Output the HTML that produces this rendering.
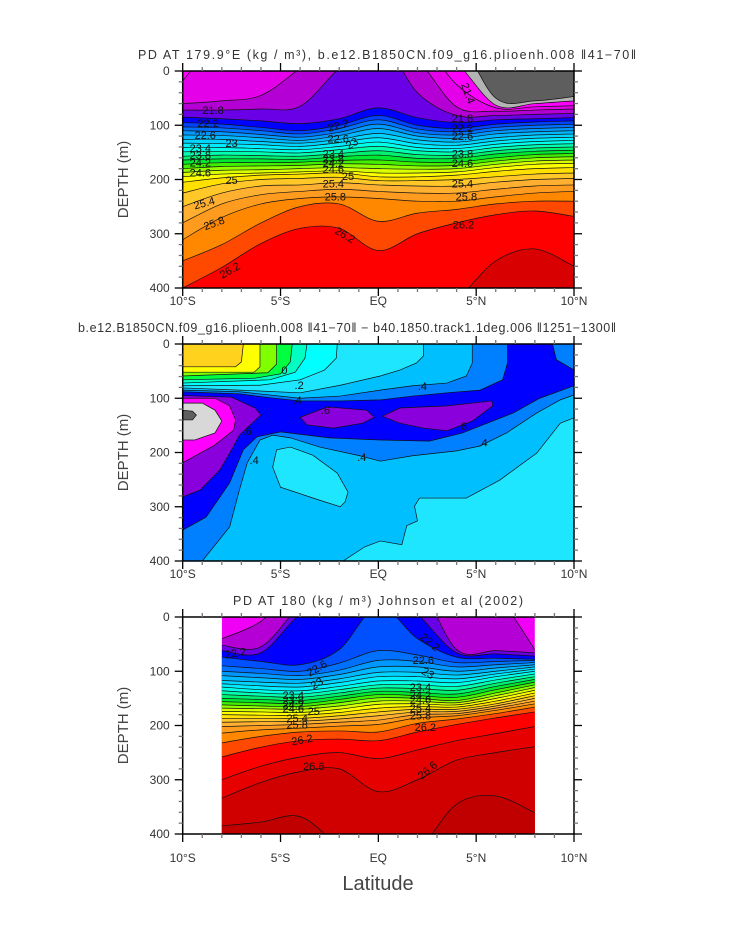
<!DOCTYPE html>
<html><head><meta charset="utf-8"><title>PD sections</title>
<style>
html,body{margin:0;padding:0;background:#fff;}
svg{display:block;font-family:"Liberation Sans",sans-serif;}
</style></head>
<body>
<svg id="fig" width="733" height="945" viewBox="0 0 733 945" xmlns="http://www.w3.org/2000/svg">
<defs>
<clipPath id="c1"><rect x="182.7" y="71" width="391.3" height="217"/></clipPath>
<clipPath id="c2"><rect x="182.7" y="344" width="391.3" height="217"/></clipPath>
<clipPath id="c3"><rect x="221.8" y="617" width="313.1" height="217"/></clipPath>
</defs>
<rect x="0" y="0" width="733" height="945" fill="#fff"/>
<text x="387" y="59" font-size="12.5" fill="#333" text-anchor="middle" textLength="498">PD AT 179.9°E (kg / m³), b.e12.B1850CN.f09_g16.plioenh.008 ‖41−70‖</text>
<text x="347" y="332" font-size="12.5" fill="#333" text-anchor="middle" textLength="538">b.e12.B1850CN.f09_g16.plioenh.008 ‖41−70‖ − b40.1850.track1.1deg.006 ‖1251−1300‖</text>
<text x="378" y="605" font-size="12.5" fill="#333" text-anchor="middle" textLength="290">PD AT 180 (kg / m³) Johnson et al (2002)</text>
<g id="p1" clip-path="url(#c1)"></g>
<g id="p2" clip-path="url(#c2)"></g>
<g id="p3" clip-path="url(#c3)"></g>
<g id="axes"></g>
<text x="378" y="890" font-size="20" fill="#444" text-anchor="middle">Latitude</text>
</svg>
<script>
// ---------- Panel 1 data ----------
const p1_lats = [-10,-8,-6,-4,-2,0,2,4,6,8,10];
const p1_levels = [21.2,21.4,21.5,21.6,21.8,22.0,22.2,22.4,22.6,22.8,23.0,23.2,23.4,23.6,23.8,24.0,24.2,24.4,24.6,24.8,25.0,25.2,25.4,25.6,25.8,26.0,26.2,26.4];
const p1_top_color = "#5e5e5e";
const p1_colors = ["#b4b4b4","#ff00ff","#e400e8","#b400d4","#6a00e6","#0000ff","#0040ff","#0070ff","#0098ff","#00b8ff","#00d4ff","#00ecff","#00ffe8","#00ffb0","#00f070","#00e830","#40f000","#90ff00","#d8ff00","#ffff00","#ffe000","#ffc828","#ffb030","#ff9c20","#ff8800","#ff4800","#ff0000","#d80000"];
const p1_depths = [
[-60,-60,-60,-60,-60,-60,-60,-60,50,55,47],
[-60,-60,-60,-60,-60,-60,-60,-15,63,60,55],
[18,-60,-60,-60,-60,-60,-60,25,68,66,64],
[60,55,45,-5,-60,-60,-20,66,74,72,70],
[72,72,70,65,-5,-60,40,82,82,80,78],
[85,88,92,97,88,68,86,95,90,88,86],
[95,98,104,110,100,82,100,106,98,94,92],
[103,105,110,116,106,90,107,112,104,100,98],
[110,112,117,122,113,98,114,118,110,106,104],
[118,119,123,128,119,106,120,124,116,112,110],
[126,126,130,133,126,115,127,131,123,118,116],
[133,134,136,139,132,123,134,137,129,124,122],
[141,141,143,145,139,131,141,143,135,130,128],
[149,148,149,151,145,139,147,149,141,136,134],
[157,155,156,157,152,147,154,155,147,142,140],
[164,162,162,163,158,155,161,161,153,148,146],
[172,169,169,168,165,164,168,168,160,154,152],
[180,176,175,174,171,172,175,174,166,160,158],
[187,183,182,180,178,180,181,180,172,166,164],
[195,190,188,186,184,188,188,186,178,172,170],
[205,197,192,190,188,195,195,192,185,180,178],
[225,208,200,198,196,202,202,200,195,190,188],
[250,225,212,210,206,210,212,212,205,200,198],
[280,245,228,222,218,222,225,225,218,212,210],
[311,270,245,235,232,235,240,240,232,225,222],
[350,320,280,250,245,277,262,255,245,240,240],
[400,362,318,290,290,331,300,280,265,258,268],
[450,450,450,450,450,450,450,420,350,328,360]];
const p1_labels = [[-8.45,72,"21.8",0],[-8.7,96,"22.2",0],[-8.85,118,"22.6",0],[-7.5,133,"23",0],[-9.1,142,"23.4",0],[-9.1,155,"23.8",0],[-9.1,169,"24.2",0],[-9.1,187,"24.6",0],[-7.5,201,"25",0],[-8.9,243,"25.4",-15],[-8.4,280,"25.8",-20],[-7.6,367,"26.2",-30],[-2.05,100,"22.2",-15],[-2.05,124,"22.6",0],[-1.35,133,"23",-30],[-2.3,152,"23.4",0],[-2.3,161,"23.8",0],[-2.3,170,"24.2",0],[-2.3,181,"24.6",0],[-1.55,194,"25",0],[-2.3,207,"25.4",0],[-2.2,231,"25.8",0],[-1.7,302,"26.2",30],[4.6,41,"21.4",70],[4.3,87,"21.8",0],[4.3,105,"22.2",0],[4.3,120,"22.6",0],[4.3,152,"23.8",0],[4.3,170,"24.6",0],[4.3,207,"25.4",0],[4.5,231,"25.8",0],[4.35,283,"26.2",0]];

// ---------- Panel 2 data (regions as lat/depth outlines) ----------
const p2_bg_color = "#1ee6ff";
const p2_region_colors = ["#00bfff","#1ee6ff","#0080ff","#0000ff","#8a00dc","#ff00ff","#d8d8d8","#606060","#8a00dc","#8a00dc","#00ffff","#00ffc0","#00ff40","#80ff00","#ffff00","#ffd21e"];
const p2_sky = [[-10,81],[-7.1,85],[-4,90],[-1.95,76],[0.1,59],[1.1,48],[1.95,35],[2.3,22],[2.3,0],[10,0],[10,136],[9.3,146],[8.1,201],[6.2,251],[4.5,284],[2.1,284],[1.85,299],[2.0,326],[1.45,335],[1.2,370],[0.1,363],[-0.7,374],[-1.8,400],[-10,400]];
const p2_blob = [[-5.2,195],[-4.5,190],[-3.35,205],[-2.1,238],[-1.55,273],[-1.7,291],[-1.95,300],[-3,288],[-5,264],[-5.4,227]];
const p2_azure = [[-10,85],[-7.1,88],[-4,100],[-1.95,96],[0.1,85],[1.75,77],[3.5,72],[4.5,59],[4.8,35],[4.8,0],[10,0],[10,94],[9.3,103],[8.1,127],[6.55,164],[5.2,188],[4.0,197],[1.75,206],[0.1,216],[-0.95,206],[-3,190],[-4.5,173],[-5.4,168],[-6.05,177],[-6.7,219],[-7.1,269],[-7.6,337],[-9,400],[-10,400]];
const p2_blue = [[-10,88],[-7.1,92],[-5.55,99],[-4,105],[-1.95,105],[0.1,103],[1.75,96],[3.5,90],[5.2,85],[6.35,66],[6.6,35],[6.6,0],[8.9,0],[9.1,29],[10,48],[10,77],[8.25,100],[6.9,127],[4.3,164],[2.6,179],[0.1,177],[-2.5,173],[-5.0,162],[-6.2,171],[-6.9,195],[-7.6,256],[-8.8,319],[-10,343]];
const p2_purple = [[-10,95],[-7.5,98],[-6.3,118],[-6.0,131],[-6.6,151],[-7.1,168],[-7.5,195],[-8.1,232],[-9.1,269],[-10,282]];
const p2_magenta = [[-10,100],[-8.35,100],[-7.6,114],[-7.3,140],[-7.4,159],[-8.35,186],[-9.1,201],[-10,219]];
const p2_lgray = [[-10,109],[-9.0,109],[-8.35,122],[-8.0,142],[-8.35,164],[-9.4,177],[-10,177]];
const p2_dgray = [[-10,122],[-9.5,124],[-9.3,131],[-9.5,140],[-10,140]];
const p2_lens1 = [[-4,135],[-2.6,116],[-0.6,122],[-0.2,135],[-0.8,146],[-2.3,155],[-3.65,149]];
const p2_lens2 = [[0.2,133],[1.1,118],[3.5,114],[5.8,105],[5.85,114],[4.8,142],[3.5,160],[2.3,155],[1.1,146]];
const p2_cyan = [[-10,0],[-2.1,0],[-2.15,26],[-2.75,48],[-4,66],[-6.05,76],[-10,77]];
const p2_aqua = [[-10,0],[-3.65,0],[-3.75,26],[-4.25,52],[-5.55,66],[-10,72]];
const p2_green = [[-10,0],[-4.4,0],[-4.5,33],[-5.0,55],[-6.3,63],[-10,66]];
const p2_lime = [[-10,0],[-5.2,0],[-5.2,37],[-5.65,53],[-10,59]];
const p2_yellow = [[-10,0],[-6.05,0],[-6.05,42],[-6.35,52],[-10,52]];
const p2_gold = [[-10,0],[-6.9,0],[-7.0,33],[-7.3,42],[-10,42]];
const p2_labels = [[-4.8,48,"0"],[-4.05,76,".2"],[-4.15,103,".4"],[-2.7,122,".6"],[-6.7,160,".6"],[-6.35,214,".4"],[2.25,77,".4"],[4.3,151,".6"],[5.35,182,".4"],[-0.85,208,".4"]];

// ---------- Panel 3 data ----------
const p3_lats = [-8,-6,-4,-2,0,2,4,6,8];
const p3_levels = [21.6,21.8,22.0,22.2,22.4,22.6,22.8,23.0,23.2,23.4,23.6,23.8,24.0,24.2,24.4,24.6,24.8,25.0,25.2,25.4,25.6,25.8,26.0,26.2,26.4,26.6,26.8];
const p3_top_color = "#f000f4";
const p3_colors = ["#b400d4","#6a00e6","#0000ff","#0050ff","#0070ff","#0098ff","#00b8ff","#00d4ff","#00ecff","#00ffe8","#00ffb0","#00f070","#00e830","#40f000","#90ff00","#d8ff00","#ffff00","#ffe000","#ffc828","#ffb030","#ff9c20","#ff8800","#ff4800","#ff0000","#e60000","#d00000","#c00000"];
const p3_depths = [
[40,8,-60,-60,-60,-60,-60,-40,60],
[52,55,-20,-60,-60,-60,60,62,66],
[62,66,-5,-40,-60,-5,66,68,72],
[74,82,88,60,-20,40,74,76,78],
[90,95,100,85,62,70,84,82,80],
[100,104,108,98,80,82,92,88,84],
[108,112,115,106,92,92,100,94,88],
[117,120,122,114,102,102,107,100,92],
[123,127,129,121,110,110,114,105,96],
[129,134,136,128,118,118,121,110,100],
[136,140,142,134,125,125,128,116,105],
[143,146,148,140,131,132,135,122,110],
[150,152,154,146,137,139,142,128,115],
[156,158,160,152,143,145,148,134,120],
[162,164,165,158,149,150,154,140,125],
[168,169,170,164,155,155,158,145,130],
[174,175,176,170,161,160,162,150,135],
[180,181,181,176,168,165,166,155,140],
[187,187,187,182,175,170,170,160,145],
[194,193,192,188,182,175,174,164,150],
[202,200,198,194,190,180,178,168,155],
[214,208,205,201,198,186,182,172,160],
[232,220,212,210,212,196,188,178,166],
[258,240,228,225,228,212,198,186,175],
[300,275,258,250,261,245,228,215,202],
[334,305,285,280,322,300,264,250,239],
[385,378,368,420,450,430,345,330,361]];
const p3_labels = [[-7.3,66,"22.2",-10],[-3.15,94,"22.6",-30],[-3.15,122,"23",-30],[-4.35,144,"23.4",0],[-4.35,153,"23.8",0],[-4.35,161,"24.2",0],[-4.35,169,"24.6",0],[-3.3,173,"25",0],[-4.15,186,"25.4",0],[-4.15,198,"25.8",0],[-3.9,226,"26.2",-10],[-3.3,275,"26.6",0],[2.65,46,"22.2",40],[2.3,79,"22.6",0],[2.55,103,"23",30],[2.15,129,"23.4",0],[2.15,144,"24.2",0],[2.15,152,"24.6",0],[2.15,168,"25.4",0],[2.15,182,"25.8",0],[2.4,203,"26.2",0],[2.5,282,"26.6",-40]];

// ---------- axes / ticks ----------
const xTickVals = [-10,-5,0,5,10];
const xTickLabels = ["10°S","5°S","EQ","5°N","10°N"];
const yTickVals = [0,100,200,300,400];

const NS = "http://www.w3.org/2000/svg";
const panels = [
  {x0:182.7,x1:574,y0:71,y1:288,lab:17},
  {x0:182.7,x1:574,y0:344,y1:561,lab:17},
  {x0:182.7,x1:574,y0:617,y1:834,lab:28}];
function sx(P,lat){return P.x0+(lat+10)/20*(P.x1-P.x0);}
function sy(P,d){return P.y0+d/400*(P.y1-P.y0);}
function mk(tag,attrs,parent){const e=document.createElementNS(NS,tag);for(const k in attrs)e.setAttribute(k,attrs[k]);parent.appendChild(e);return e;}
function cr(pts){
  let s="M"+pts[0][0].toFixed(2)+","+pts[0][1].toFixed(2);
  const n=pts.length;
  for(let i=0;i<n-1;i++){
    const p0=pts[Math.max(i-1,0)],p1=pts[i],p2=pts[i+1],p3=pts[Math.min(i+2,n-1)];
    const c1=[p1[0]+(p2[0]-p0[0])/6,p1[1]+(p2[1]-p0[1])/6];
    const c2=[p2[0]-(p3[0]-p1[0])/6,p2[1]-(p3[1]-p1[1])/6];
    s+=" C"+c1[0].toFixed(2)+","+c1[1].toFixed(2)+" "+c2[0].toFixed(2)+","+c2[1].toFixed(2)+" "+p2[0].toFixed(2)+","+p2[1].toFixed(2);
  }
  return s;
}
function isoPanel(gid,P,lats,depths,colors,topColor,levels){
  const g=document.getElementById(gid);
  const bg=mk("rect",{x:sx(P,lats[0]),y:P.y0-5,width:sx(P,lats[lats.length-1])-sx(P,lats[0]),height:P.y1-P.y0+10,fill:topColor},g);
  
  
  const curves=[];
  depths.forEach((row,i)=>{
    const pts=row.map((d,j)=>[sx(P,lats[j]),sy(P,Math.max(d,-60))]);
    const c=cr(pts);curves.push(c);
    const xl=sx(P,lats[lats.length-1]),xf=sx(P,lats[0]);
    const f=mk("path",{d:c+" L"+xl+","+(P.y1+10)+" L"+xf+","+(P.y1+10)+" Z",fill:colors[i]},g);
    
    
  });
  curves.forEach((c,i)=>{
    const l=mk("path",{d:c,fill:"none",stroke:"#111","stroke-width":"0.7"},g);
    
    
  });
}
function polyPath(P,pts){return "M"+pts.map(p=>sx(P,p[0]).toFixed(2)+","+sy(P,p[1]).toFixed(2)).join(" L")+" Z";}
function addLabels(gid,P,labels){
  const g=document.getElementById(gid);
  labels.forEach(L=>{
    const x=sx(P,L[0]),y=sy(P,L[1]);
    const t=mk("text",{x:x,y:y+4,"font-size":"11",fill:"#111","text-anchor":"middle",transform:"rotate("+(L[3]||0)+" "+x+" "+y+")"},g);
    t.textContent=L[2];
    
    
  });
}

isoPanel("p1",panels[0],p1_lats,p1_depths,p1_colors,p1_top_color,p1_levels);
addLabels("p1",panels[0],p1_labels);

(function(){
  const P=panels[1];const g=document.getElementById("p2");
  const bg=mk("rect",{x:P.x0,y:P.y0,width:P.x1-P.x0,height:P.y1-P.y0,fill:p2_bg_color},g);
  
  
  const regions=[p2_sky,p2_blob,p2_azure,p2_blue,p2_purple,p2_magenta,p2_lgray,p2_dgray,p2_lens1,p2_lens2,p2_cyan,p2_aqua,p2_green,p2_lime,p2_yellow,p2_gold];
  const names=["sky","inner-blob","azure","blue","purple-left","magenta-left","lightgray-left","darkgray-left","purple-lens-mid","purple-lens-right","cyan","aqua","green","lime","yellow","gold"];
  regions.forEach((r,i)=>{
    const p=mk("path",{d:polyPath(P,r),fill:p2_region_colors[i],stroke:"#111","stroke-width":"0.7"},g);
    
    
  });
  addLabels("p2",P,p2_labels);
})();

isoPanel("p3",panels[2],p3_lats,p3_depths,p3_colors,p3_top_color,p3_levels);
addLabels("p3",panels[2],p3_labels);

// axes
(function(){
  const ax=document.getElementById("axes");
  panels.forEach((P,pi)=>{
    const fr=mk("rect",{x:P.x0,y:P.y0,width:P.x1-P.x0,height:P.y1-P.y0,fill:"none",stroke:"#000","stroke-width":"1.5"},ax);
    
    
    for(let lat=-10;lat<=10;lat++){
      const major=(lat%5===0);const len=major?8:4;const col=major?"#000":"#777";const x=sx(P,lat);
      const t1=mk("line",{x1:x,x2:x,y1:P.y1,y2:P.y1+len,stroke:col,"stroke-width":"1.3"},ax);
      
      
      const t2=mk("line",{x1:x,x2:x,y1:P.y0,y2:P.y0-len,stroke:col,"stroke-width":"1.3"},ax);
      
      
    }
    for(let d=0;d<=400;d+=20){
      const major=(d%100===0);const len=major?8:4;const col=major?"#000":"#777";const y=sy(P,d);
      const t1=mk("line",{x1:P.x0,x2:P.x0-len,y1:y,y2:y,stroke:col,"stroke-width":"1.3"},ax);
      
      
      const t2=mk("line",{x1:P.x1,x2:P.x1+len,y1:y,y2:y,stroke:col,"stroke-width":"1.3"},ax);
      
      
    }
    xTickVals.forEach((v,i)=>{
      const t=mk("text",{x:sx(P,v),y:P.y1+P.lab,"font-size":"12",fill:"#333","text-anchor":"middle"},ax);
      t.textContent=xTickLabels[i];
      
      
    });
    yTickVals.forEach(v=>{
      const t=mk("text",{x:P.x0-13,y:sy(P,v)+4,"font-size":"12",fill:"#333","text-anchor":"end"},ax);
      t.textContent=String(v);
      
      
    });
    const cy=(P.y0+P.y1)/2;
    const yt=mk("text",{x:128,y:cy,"font-size":"15",fill:"#444","text-anchor":"middle",transform:"rotate(-90 128 "+cy+")"},ax);
    yt.textContent="DEPTH (m)";
    
    
  });
})();
</script>
</body></html>
